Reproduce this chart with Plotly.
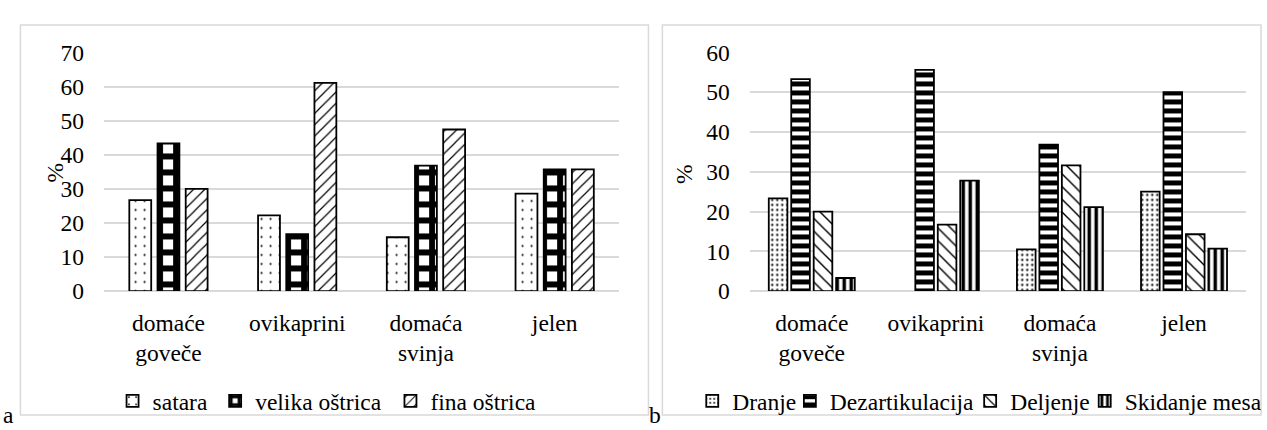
import plotly.graph_objects as go

# Category labels (shared by both panels)
categories = ["domaće<br>goveče", "ovikaprini", "domaća<br>svinja", "jelen"]

# Panel a: tool type, %
satara = [26.7, 22.2, 15.8, 28.6]
velika_ostrica = [43.3, 16.7, 36.8, 35.7]
fina_ostrica = [30.0, 61.1, 47.4, 35.7]

# Panel b: butchering activity, % (no Dranje marks for ovikaprini)
dranje = [23.3, None, 10.5, 25.0]
dezartikulacija = [53.3, 55.6, 36.8, 50.0]
deljenje = [20.0, 16.7, 31.6, 14.3]
skidanje_mesa = [3.3, 27.8, 21.1, 10.7]

W, H = 1267, 430
FONT = "Liberation Serif"
FS = 23.5
GRID = "#d9d9d9"
TXT = dict(family=FONT, size=FS, color="black")


def px_x(p):
    return p / W


def px_y(p):
    return 1 - p / H


def group_offsets(n, pitch, width):
    return [(i - (n - 1) / 2) * pitch - width / 2 for i in range(n)]


# each series gets its own one-entry legend so the keys can sit in a row
# (left pixel edge of every legend box)
panel_a = [
    ("satara", satara, dict(shape=".", size=9, solidity=0.045), 113),
    ("velika oštrica", velika_ostrica, dict(shape="+", size=16, solidity=0.6), 216),
    ("fina oštrica", fina_ostrica, dict(shape="/", size=8, solidity=0.15), 392),
]
panel_b = [
    ("Dranje", dranje, dict(shape=".", size=5, solidity=0.16), 695),
    ("Dezartikulacija", dezartikulacija, dict(shape="-", size=9, solidity=0.55), 793),
    ("Deljenje", deljenje, dict(shape="\\", size=9, solidity=0.16), 974),
    ("Skidanje mesa", skidanje_mesa, dict(shape="|", size=7, solidity=0.5), 1089),
]

fig = go.Figure()
legends = {}
k = 0
for series, xa, ya, width, pitch in [(panel_a, "x", "y", 0.170, 0.219),
                                     (panel_b, "x2", "y2", 0.150, 0.181)]:
    offs = group_offsets(len(series), pitch, width)
    for (name, vals, pat, lx), off in zip(series, offs):
        k += 1
        lname = "legend" if k == 1 else f"legend{k}"
        fig.add_trace(go.Bar(
            x=categories, y=vals, name=name, xaxis=xa, yaxis=ya, legend=lname,
            showlegend=True, width=width, offset=off,
            marker=dict(color="white", line=dict(color="black", width=1.8),
                        pattern=dict(fgcolor="black", bgcolor="white", fgopacity=1,
                                     fillmode="replace", **pat)),
        ))
        legends[lname] = dict(orientation="h", x=px_x(lx), xanchor="left",
                              y=px_y(413), yanchor="middle", font=TXT,
                              bgcolor="rgba(0,0,0,0)", visible=True)

ydom = [px_y(296), px_y(42)]
xaxis_common = dict(type="category", showgrid=False, zeroline=False, showline=False,
                    ticks="", ticklabelstandoff=15, tickfont=TXT, fixedrange=True)
yaxis_common = dict(dtick=10, showgrid=True, gridcolor=GRID, gridwidth=1.5,
                    zeroline=True, zerolinecolor=GRID, zerolinewidth=1.5,
                    showline=False, ticks="", ticklabelstandoff=19,
                    tickfont=TXT, fixedrange=True)

fig.update_layout(
    width=W, height=H,
    margin=dict(l=0, r=0, t=0, b=0),
    paper_bgcolor="white", plot_bgcolor="white",
    barmode="overlay",
    showlegend=True,
    font=TXT,
    xaxis=dict(domain=[px_x(104.5), px_x(621.5)], anchor="y", **xaxis_common),
    yaxis=dict(domain=ydom, anchor="x", range=[0, 70], **yaxis_common),
    xaxis2=dict(domain=[px_x(752.7), px_x(1251)], anchor="y2", **xaxis_common),
    yaxis2=dict(domain=ydom, anchor="x2", range=[0, 60], **yaxis_common),
    shapes=[
        dict(type="rect", xref="paper", yref="paper", layer="below",
             x0=px_x(20.5), x1=px_x(651), y0=px_y(428), y1=px_y(12.7),
             line=dict(color=GRID, width=1.5)),
        dict(type="rect", xref="paper", yref="paper", layer="below",
             x0=px_x(665), x1=px_x(1266), y0=px_y(428), y1=px_y(12.7),
             line=dict(color=GRID, width=1.5)),
    ],
    annotations=[
        dict(text="%", xref="paper", yref="paper", x=px_x(40), y=px_y(170),
             textangle=-90, showarrow=False, font=TXT),
        dict(text="%", xref="paper", yref="paper", x=px_x(686), y=px_y(171),
             textangle=-90, showarrow=False, font=TXT),
        dict(text="a", xref="paper", yref="paper", x=px_x(1), y=px_y(412),
             xanchor="left", yanchor="top", showarrow=False, font=TXT),
        dict(text="b", xref="paper", yref="paper", x=px_x(650), y=px_y(412),
             xanchor="left", yanchor="top", showarrow=False, font=TXT),
    ],
)
fig.update_layout(**legends)

fig.write_html("out.html", config={"displayModeBar": False})
